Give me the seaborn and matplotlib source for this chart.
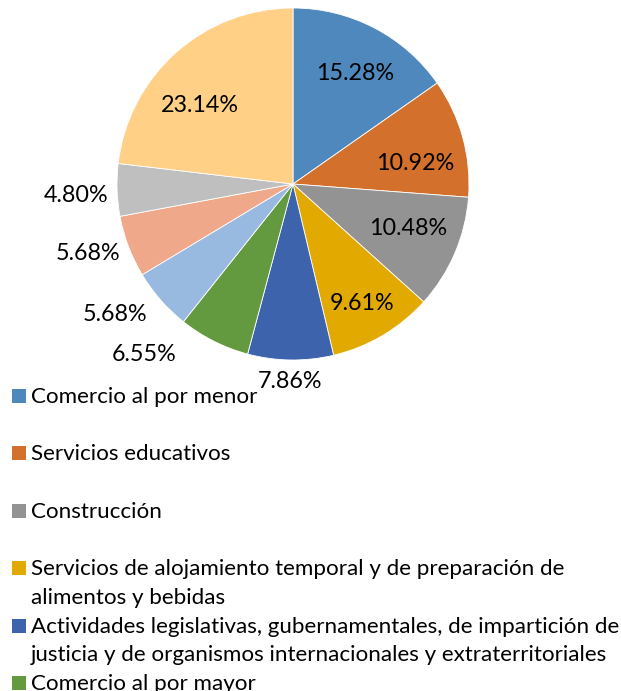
import matplotlib
matplotlib.use("Agg")
import matplotlib.pyplot as plt
from matplotlib.patches import Rectangle
import seaborn as sns

# Share of units by economic sector (percent), clockwise from 12 o'clock
values = [15.28, 10.92, 10.48, 9.61, 7.86, 6.55, 5.68, 5.68, 4.80, 23.14]
colors = ["#4E88BC", "#D3702B", "#939393", "#E2A900", "#3C63AC",
          "#639A3F", "#98B9E0", "#EFA889", "#BFBFBF", "#FFD085"]
legend_labels = [
    "Comercio al por menor",
    "Servicios educativos",
    "Construcción",
    "Servicios de alojamiento temporal y de preparación de\nalimentos y bebidas",
    "Actividades legislativas, gubernamentales, de impartición de\n"
    "justicia y de organismos internacionales y extraterritoriales",
    "Comercio al por mayor",
]

sns.set_theme(style="white")
plt.rcParams["font.family"] = ["Lato", "DejaVu Sans"]
palette = sns.color_palette(colors)

W, H = 621, 691
fig = plt.figure(figsize=(W / 100, H / 100), dpi=100)
ax = fig.add_axes([0, 0, 1, 1])

# pie geometry in pixels
cx, cy, R = 293, 184, 176


def to_data(px, py):
    return (px - cx) / R, (cy - py) / R


wedges, texts, autotexts = ax.pie(
    values, colors=palette, startangle=90, counterclock=False,
    radius=1, autopct="%.2f%%", pctdistance=0.7,
    wedgeprops=dict(edgecolor="white", linewidth=0.6),
    textprops=dict(fontsize=16.8, color="black"),
)

# data-label baselines (pixel positions)
label_pos = [(355, 80), (415, 170), (408, 235), (362, 310), (290, 388),
             (144, 361), (115, 321), (88, 260), (76, 202), (200, 112)]
for t, (px, py) in zip(autotexts, label_pos):
    t.set_position(to_data(px, py))
    t.set_ha("center")
    t.set_va("baseline")

ax.set_xlim(-cx / R, (W - cx) / R)
ax.set_ylim(-(H - cy) / R, cy / R)
ax.set_aspect("auto")
ax.axis("off")

# legend rows: colour square + wrapped text
base0, step, line_gap = 403, 57.4, 28.5
for i, (lab, col) in enumerate(zip(legend_labels, palette)):
    base = base0 + i * step
    x0, y0 = to_data(12, base)
    ax.add_patch(Rectangle((x0, y0), 14 / R, 14 / R, facecolor=col,
                           edgecolor="none", clip_on=False))
    for j, line in enumerate(lab.split("\n")):
        tx, ty = to_data(31, base + j * line_gap)
        ax.text(tx, ty, line, fontsize=16.1, ha="left", va="baseline",
                color="black")

fig.savefig("out.png", dpi=100)
